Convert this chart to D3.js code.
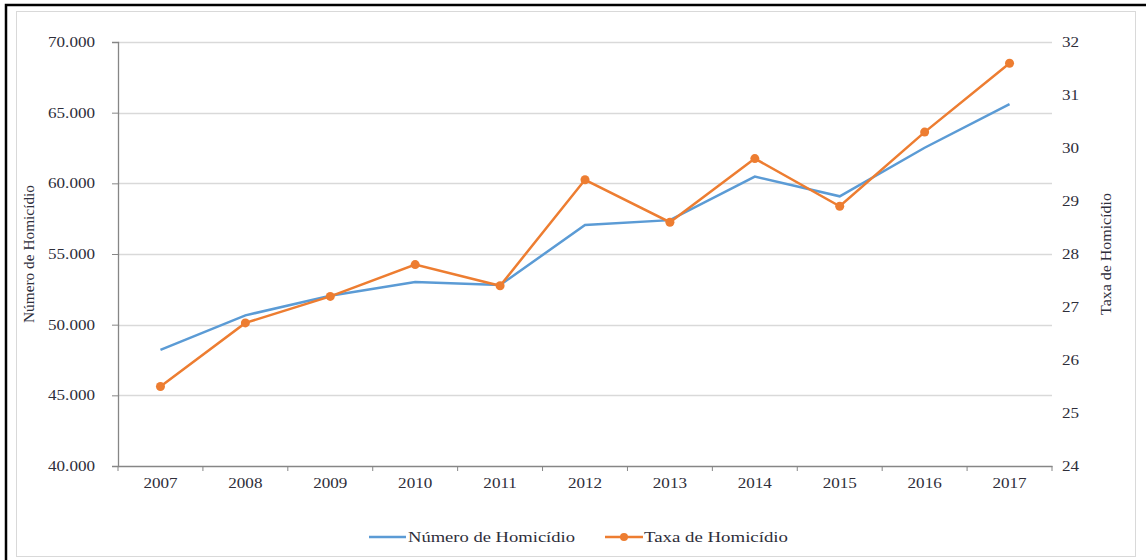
<!DOCTYPE html>
<html>
<head>
<meta charset="utf-8">
<script src="https://cdn.jsdelivr.net/npm/d3@7"></script>
<style>
  body { margin: 0; background: #fff; }
</style>
</head>
<body>
<div id="chart"></div>
<script>
var years = ["2007", "2008", "2009", "2010", "2011", "2012", "2013", "2014", "2015", "2016", "2017"];
var numero = [48219, 50659, 52043, 53016, 52807, 57045, 57396, 60474, 59080, 62517, 65602];
var taxa = [25.5, 26.7, 27.2, 27.8, 27.4, 29.4, 28.6, 29.8, 28.9, 30.3, 31.6];
var leftTicks = [40000, 45000, 50000, 55000, 60000, 65000, 70000];
var rightTicks = [24, 25, 26, 27, 28, 29, 30, 31, 32];

var W = 1146, H = 560;
var margin = { top: 42, left: 118, bottom: 94, right: 94 };
var width = W - margin.left - margin.right;
var height = H - margin.top - margin.bottom;

var blue = "#5b9bd5", orange = "#ed7d31";
var serif = "'Liberation Serif', 'DejaVu Serif', 'Times New Roman', serif";
var ink = "#2e2e3a";

var svg = d3.select("#chart").append("svg")
    .attr("width", W)
    .attr("height", H)
    .attr("font-family", serif);

// frames
svg.append("rect").attr("x", 6).attr("y", 5).attr("width", W + 10).attr("height", H + 10)
    .attr("fill", "none").attr("stroke", "#000").attr("stroke-width", 2.5);
svg.append("rect").attr("x", 16.5).attr("y", 11.5).attr("width", 1119).attr("height", 545)
    .attr("fill", "none").attr("stroke", "#d9d9d9").attr("stroke-width", 1);

var g = svg.append("g")
    .attr("transform", "translate(" + margin.left + "," + margin.top + ")");

var x = d3.scaleBand().domain(years).range([0, width]);
var yL = d3.scaleLinear().domain([40000, 70000]).range([height, 0]);
var yR = d3.scaleLinear().domain([24, 32]).range([height, 0]);

// stretch text horizontally like the reference
function widen(sel, k) {
  sel.each(function() {
    var n = this.getComputedTextLength();
    d3.select(this).attr("textLength", n * k).attr("lengthAdjust", "spacingAndGlyphs");
  });
}

// gridlines
g.selectAll(".grid").data(leftTicks.slice(1))
  .enter().append("line")
    .attr("x1", 0).attr("x2", width)
    .attr("y1", function(d) { return Math.round(yL(d)) + 0.5; })
    .attr("y2", function(d) { return Math.round(yL(d)) + 0.5; })
    .attr("stroke", "#d9d9d9").attr("stroke-width", 1.3);

// left axis
var axL = g.append("g")
    .call(d3.axisLeft(yL).tickValues(leftTicks).tickSize(6).tickPadding(17)
      .tickFormat(function(d) { return d3.format(",")(d).replace(",", "."); }));
axL.attr("font-family", serif);
axL.select(".domain").attr("stroke", "#868686").attr("stroke-width", 1.3);
axL.selectAll(".tick line").attr("stroke", "#868686");
axL.selectAll("text").attr("font-size", 14).attr("fill", ink).call(widen, 1.22);

// right axis (labels only)
var axR = g.append("g").attr("transform", "translate(" + width + ",0)")
    .call(d3.axisRight(yR).tickValues(rightTicks).tickSize(0).tickPadding(10));
axR.attr("font-family", serif);
axR.select(".domain").remove();
axR.selectAll("text").attr("font-size", 14).attr("fill", ink).call(widen, 1.22);

// bottom axis
var axB = g.append("g").attr("transform", "translate(0," + height + ")")
    .call(d3.axisBottom(x).tickSize(0).tickPadding(12));
axB.attr("font-family", serif);
axB.select(".domain").attr("stroke", "#868686").attr("stroke-width", 1.3);
axB.selectAll("text").attr("font-size", 14).attr("fill", ink).call(widen, 1.22);
var bounds = years.map(function(d) { return x(d); }).concat([width]);
g.selectAll(".btick").data(bounds)
  .enter().append("line")
    .attr("x1", function(d) { return d; }).attr("x2", function(d) { return d; })
    .attr("y1", height).attr("y2", height + 5)
    .attr("stroke", "#868686");

// axis titles
g.append("text")
    .attr("transform", "translate(" + (-84) + "," + (height / 2) + ") rotate(-90)")
    .attr("text-anchor", "middle")
    .attr("font-size", 15).attr("fill", ink)
    .attr("textLength", 138).attr("lengthAdjust", "spacingAndGlyphs")
    .text("Número de Homicídio");
g.append("text")
    .attr("transform", "translate(" + (width + 59) + "," + (height / 2) + ") rotate(-90)")
    .attr("text-anchor", "middle")
    .attr("font-size", 15).attr("fill", ink)
    .attr("textLength", 122).attr("lengthAdjust", "spacingAndGlyphs")
    .text("Taxa de Homicídio");

var cx = function(i) { return x(years[i]) + x.bandwidth() / 2; };

var lineL = d3.line()
    .x(function(d, i) { return cx(i); })
    .y(function(d) { return yL(d); });
var lineR = d3.line()
    .x(function(d, i) { return cx(i); })
    .y(function(d) { return yR(d); });

g.append("path").datum(numero)
    .attr("d", lineL).attr("fill", "none")
    .attr("stroke", blue).attr("stroke-width", 2.5);

g.append("path").datum(taxa)
    .attr("d", lineR).attr("fill", "none")
    .attr("stroke", orange).attr("stroke-width", 2.5);

g.selectAll(".dot").data(taxa)
  .enter().append("circle")
    .attr("cx", function(d, i) { return cx(i); })
    .attr("cy", function(d) { return yR(d); })
    .attr("r", 4.5)
    .attr("fill", orange);

// legend
var leg = svg.append("g").attr("transform", "translate(0,537)");
leg.append("line").attr("x1", 369).attr("x2", 406).attr("y1", 0).attr("y2", 0)
    .attr("stroke", blue).attr("stroke-width", 2.5);
leg.append("text").attr("x", 408).attr("y", 5).attr("font-size", 15).attr("fill", ink)
    .attr("textLength", 167).attr("lengthAdjust", "spacingAndGlyphs")
    .text("Número de Homicídio");
leg.append("line").attr("x1", 605).attr("x2", 643).attr("y1", 0).attr("y2", 0)
    .attr("stroke", orange).attr("stroke-width", 2.5);
leg.append("circle").attr("cx", 624).attr("cy", 0).attr("r", 4).attr("fill", orange);
leg.append("text").attr("x", 644).attr("y", 5).attr("font-size", 15).attr("fill", ink)
    .attr("textLength", 144).attr("lengthAdjust", "spacingAndGlyphs")
    .text("Taxa de Homicídio");
</script>
</body>
</html>
